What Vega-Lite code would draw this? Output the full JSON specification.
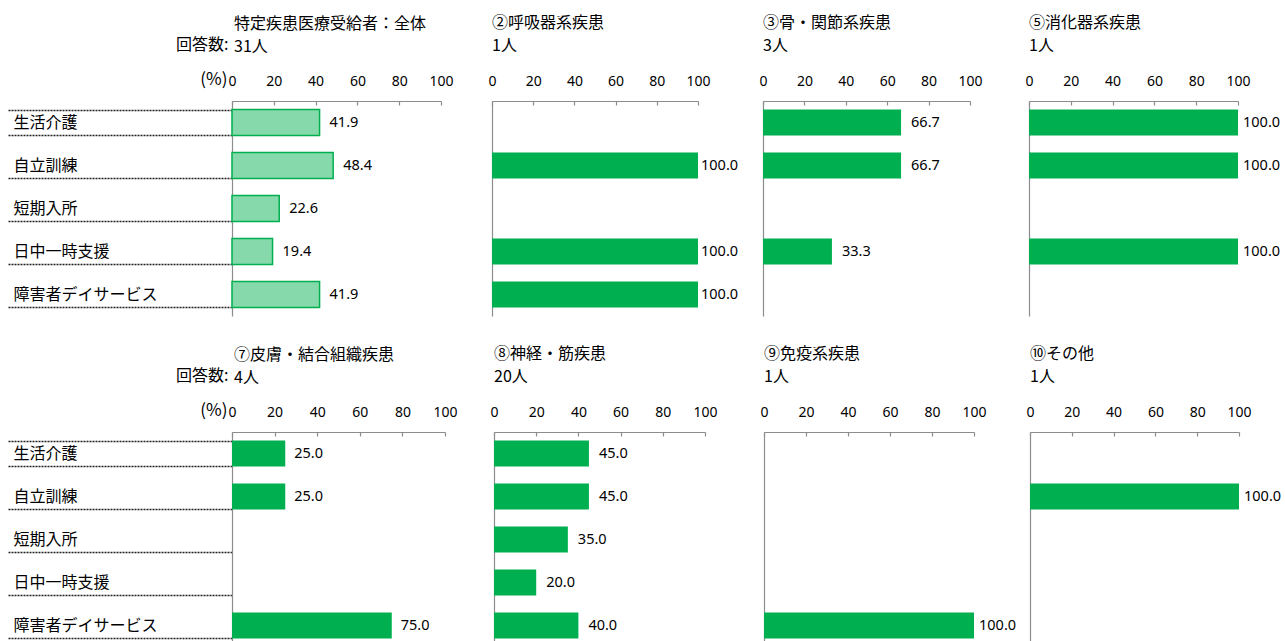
{
  "$schema": "https://vega.github.io/schema/vega-lite/v6.json",
  "background": "white",
  "padding": {"left": 7, "top": 15, "right": 0, "bottom": 0},
  "datasets": {
    "d": [
      {"p": 1, "cat": "生活介護", "v": 41.9},
      {"p": 1, "cat": "自立訓練", "v": 48.4},
      {"p": 1, "cat": "短期入所", "v": 22.6},
      {"p": 1, "cat": "日中一時支援", "v": 19.4},
      {"p": 1, "cat": "障害者デイサービス", "v": 41.9},
      {"p": 2, "cat": "自立訓練", "v": 100},
      {"p": 2, "cat": "日中一時支援", "v": 100},
      {"p": 2, "cat": "障害者デイサービス", "v": 100},
      {"p": 3, "cat": "生活介護", "v": 66.7},
      {"p": 3, "cat": "自立訓練", "v": 66.7},
      {"p": 3, "cat": "日中一時支援", "v": 33.3},
      {"p": 4, "cat": "生活介護", "v": 100},
      {"p": 4, "cat": "自立訓練", "v": 100},
      {"p": 4, "cat": "日中一時支援", "v": 100},
      {"p": 5, "cat": "生活介護", "v": 25},
      {"p": 5, "cat": "自立訓練", "v": 25},
      {"p": 5, "cat": "障害者デイサービス", "v": 75},
      {"p": 6, "cat": "生活介護", "v": 45},
      {"p": 6, "cat": "自立訓練", "v": 45},
      {"p": 6, "cat": "短期入所", "v": 35},
      {"p": 6, "cat": "日中一時支援", "v": 20},
      {"p": 6, "cat": "障害者デイサービス", "v": 40},
      {"p": 7, "cat": "障害者デイサービス", "v": 100},
      {"p": 8, "cat": "自立訓練", "v": 100}
    ]
  },
  "data": {"name": "d"},
  "spacing": 30,
  "vconcat": [
    {
      "spacing": 0,
      "bounds": "flush",
      "hconcat": [
        {
          "width": 260, "height": 215,
          "title": {"text": ["特定疾患医療受給者：全体", "31人"], "offset": -19, "dx": 2},
          "transform": [{"filter": "datum.p == 1"}],
          "encoding": {
            "y": {"field": "cat", "type": "nominal", "scale": {"domain": ["生活介護","自立訓練","短期入所","日中一時支援","障害者デイサービス"], "paddingInner": 0.4, "paddingOuter": 0.2},
              "axis": {"title": "回答数:", "titleAngle": 0, "titleAlign": "right", "titleBaseline": "middle", "titleX": -4, "titleY": -57, "labels": true, "ticks": true, "tickBand": "extent", "tickSize": 224, "tickColor": "#222222", "tickDash": [2, 1], "tickWidth": 1.5, "labelAlign": "left", "labelPadding": -5, "labelBaseline": "middle"}},
            "x": {"field": "v", "type": "quantitative", "scale": {"domain": [0, 100], "nice": false, "range": [0, 209]},
              "axis": {"orient": "top", "values": [0, 20, 40, 60, 80, 100], "title": "(%)", "titleX": -5, "titleY": -13, "titleAlign": "right", "titleBaseline": "bottom", "titleAngle": 0}}
          },
          "layer": [
            {"mark": {"type": "bar", "fill": "#86d9ab", "stroke": "#00B050", "strokeWidth": 1.5}},
            {"mark": {"type": "text", "align": "left", "baseline": "middle", "dx": 10, "font": "Noto Sans", "fontSize": 14.5, "color": "#000"}, "encoding": {"text": {"field": "v", "type": "quantitative", "format": ".1f"}}}
          ]
        },
        {
          "width": 271, "height": 215,
          "title": {"text": ["②呼吸器系疾患", "1人"]},
          "transform": [{"filter": "datum.p == 2"}],
          "encoding": {
            "y": {"field": "cat", "type": "nominal", "scale": {"domain": ["生活介護","自立訓練","短期入所","日中一時支援","障害者デイサービス"], "paddingInner": 0.4, "paddingOuter": 0.2}, "axis": {"title": null}},
            "x": {"field": "v", "type": "quantitative", "scale": {"domain": [0, 100], "nice": false, "range": [0, 206]}, "axis": {"orient": "top", "values": [0, 20, 40, 60, 80, 100], "title": null}}
          },
          "layer": [
            {"mark": {"type": "bar", "color": "#00B050"}},
            {"mark": {"type": "text", "align": "left", "baseline": "middle", "dx": 3, "font": "Noto Sans", "fontSize": 14.5, "color": "#000"}, "encoding": {"text": {"field": "v", "type": "quantitative", "format": ".1f"}}}
          ]
        },
        {
          "width": 266, "height": 215,
          "title": {"text": ["③骨・関節系疾患", "3人"]},
          "transform": [{"filter": "datum.p == 3"}],
          "encoding": {
            "y": {"field": "cat", "type": "nominal", "scale": {"domain": ["生活介護","自立訓練","短期入所","日中一時支援","障害者デイサービス"], "paddingInner": 0.4, "paddingOuter": 0.2}, "axis": {"title": null}},
            "x": {"field": "v", "type": "quantitative", "scale": {"domain": [0, 100], "nice": false, "range": [0, 207]}, "axis": {"orient": "top", "values": [0, 20, 40, 60, 80, 100], "title": null}}
          },
          "layer": [
            {"mark": {"type": "bar", "color": "#00B050"}},
            {"mark": {"type": "text", "align": "left", "baseline": "middle", "dx": 10, "font": "Noto Sans", "fontSize": 14.5, "color": "#000"}, "encoding": {"text": {"field": "v", "type": "quantitative", "format": ".1f"}}}
          ]
        },
        {
          "width": 209, "height": 215,
          "title": {"text": ["⑤消化器系疾患", "1人"]},
          "transform": [{"filter": "datum.p == 4"}],
          "encoding": {
            "y": {"field": "cat", "type": "nominal", "scale": {"domain": ["生活介護","自立訓練","短期入所","日中一時支援","障害者デイサービス"], "paddingInner": 0.4, "paddingOuter": 0.2}, "axis": {"title": null}},
            "x": {"field": "v", "type": "quantitative", "scale": {"domain": [0, 100], "nice": false, "range": [0, 209]}, "axis": {"orient": "top", "values": [0, 20, 40, 60, 80, 100], "title": null}}
          },
          "layer": [
            {"mark": {"type": "bar", "color": "#00B050"}},
            {"mark": {"type": "text", "align": "left", "baseline": "middle", "dx": 5, "font": "Noto Sans", "fontSize": 14.5, "color": "#000"}, "encoding": {"text": {"field": "v", "type": "quantitative", "format": ".1f"}}}
          ]
        }
      ]
    },
    {
      "spacing": 0,
      "bounds": "flush",
      "hconcat": [
        {
          "width": 262, "height": 215,
          "title": {"text": ["⑦皮膚・結合組織疾患", "4人"], "offset": -19, "dx": 2},
          "transform": [{"filter": "datum.p == 5"}],
          "encoding": {
            "y": {"field": "cat", "type": "nominal", "scale": {"domain": ["生活介護","自立訓練","短期入所","日中一時支援","障害者デイサービス"], "paddingInner": 0.4, "paddingOuter": 0.2},
              "axis": {"title": "回答数:", "titleAngle": 0, "titleAlign": "right", "titleBaseline": "middle", "titleX": -4, "titleY": -57, "labels": true, "ticks": true, "tickBand": "extent", "tickSize": 224, "tickColor": "#222222", "tickDash": [2, 1], "tickWidth": 1.5, "labelAlign": "left", "labelPadding": -5, "labelBaseline": "middle"}},
            "x": {"field": "v", "type": "quantitative", "scale": {"domain": [0, 100], "nice": false, "range": [0, 213]},
              "axis": {"orient": "top", "values": [0, 20, 40, 60, 80, 100], "title": "(%)", "titleX": -5, "titleY": -13, "titleAlign": "right", "titleBaseline": "bottom", "titleAngle": 0}}
          },
          "layer": [
            {"mark": {"type": "bar", "color": "#00B050"}},
            {"mark": {"type": "text", "align": "left", "baseline": "middle", "dx": 9, "font": "Noto Sans", "fontSize": 14.5, "color": "#000"}, "encoding": {"text": {"field": "v", "type": "quantitative", "format": ".1f"}}}
          ]
        },
        {
          "width": 270, "height": 215,
          "title": {"text": ["⑧神経・筋疾患", "20人"]},
          "transform": [{"filter": "datum.p == 6"}],
          "encoding": {
            "y": {"field": "cat", "type": "nominal", "scale": {"domain": ["生活介護","自立訓練","短期入所","日中一時支援","障害者デイサービス"], "paddingInner": 0.4, "paddingOuter": 0.2}, "axis": {"title": null}},
            "x": {"field": "v", "type": "quantitative", "scale": {"domain": [0, 100], "nice": false, "range": [0, 211]}, "axis": {"orient": "top", "values": [0, 20, 40, 60, 80, 100], "title": null}}
          },
          "layer": [
            {"mark": {"type": "bar", "color": "#00B050"}},
            {"mark": {"type": "text", "align": "left", "baseline": "middle", "dx": 10, "font": "Noto Sans", "fontSize": 14.5, "color": "#000"}, "encoding": {"text": {"field": "v", "type": "quantitative", "format": ".1f"}}}
          ]
        },
        {
          "width": 266, "height": 215,
          "title": {"text": ["⑨免疫系疾患", "1人"]},
          "transform": [{"filter": "datum.p == 7"}],
          "encoding": {
            "y": {"field": "cat", "type": "nominal", "scale": {"domain": ["生活介護","自立訓練","短期入所","日中一時支援","障害者デイサービス"], "paddingInner": 0.4, "paddingOuter": 0.2}, "axis": {"title": null}},
            "x": {"field": "v", "type": "quantitative", "scale": {"domain": [0, 100], "nice": false, "range": [0, 210]}, "axis": {"orient": "top", "values": [0, 20, 40, 60, 80, 100], "title": null}}
          },
          "layer": [
            {"mark": {"type": "bar", "color": "#00B050"}},
            {"mark": {"type": "text", "align": "left", "baseline": "middle", "dx": 5, "font": "Noto Sans", "fontSize": 14.5, "color": "#000"}, "encoding": {"text": {"field": "v", "type": "quantitative", "format": ".1f"}}}
          ]
        },
        {
          "width": 209, "height": 215,
          "title": {"text": ["⑩その他", "1人"]},
          "transform": [{"filter": "datum.p == 8"}],
          "encoding": {
            "y": {"field": "cat", "type": "nominal", "scale": {"domain": ["生活介護","自立訓練","短期入所","日中一時支援","障害者デイサービス"], "paddingInner": 0.4, "paddingOuter": 0.2}, "axis": {"title": null}},
            "x": {"field": "v", "type": "quantitative", "scale": {"domain": [0, 100], "nice": false, "range": [0, 209]}, "axis": {"orient": "top", "values": [0, 20, 40, 60, 80, 100], "title": null}}
          },
          "layer": [
            {"mark": {"type": "bar", "color": "#00B050"}},
            {"mark": {"type": "text", "align": "left", "baseline": "middle", "dx": 5, "font": "Noto Sans", "fontSize": 14.5, "color": "#000"}, "encoding": {"text": {"field": "v", "type": "quantitative", "format": ".1f"}}}
          ]
        }
      ]
    }
  ],
  "config": {
    "view": {"stroke": null},
    "font": "Noto Sans CJK JP",
    "title": {"anchor": "start", "frame": "group", "font": "Noto Sans CJK JP", "fontSize": 16, "fontWeight": "normal", "lineHeight": 23, "offset": 20, "color": "#000", "dx": 0},
    "axis": {"grid": false, "domainColor": "#8c8c8c", "domainWidth": 1.2},
    "axisX": {"tickColor": "#8c8c8c", "tickSize": -4, "tickWidth": 1.2, "labelPadding": 17, "labelFont": "Noto Sans", "labelFontSize": 14, "labelColor": "#000", "labelFlush": false, "labelOverlap": false, "titleFont": "Noto Sans CJK JP", "titleFontSize": 17, "titleFontWeight": "normal", "titleColor": "#000"},
    "axisY": {"ticks": false, "labels": false, "labelFont": "Noto Sans CJK JP", "labelFontSize": 16, "labelColor": "#000", "titleFont": "Noto Sans CJK JP", "titleFontSize": 16, "titleFontWeight": "normal", "titleColor": "#000"}
  }
}
